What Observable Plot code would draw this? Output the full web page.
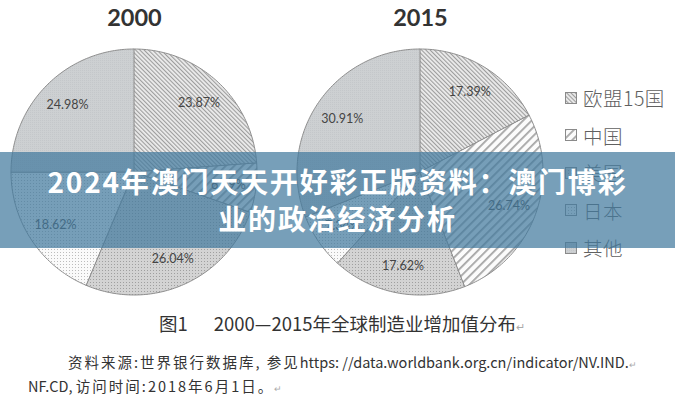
<!DOCTYPE html>
<html>
<head>
<meta charset="utf-8">
<script src="https://cdn.jsdelivr.net/npm/d3@7"></script>
<script src="https://cdn.jsdelivr.net/npm/@observablehq/plot@0.6"></script>
<style>
  html, body { margin: 0; padding: 0; background: #fff; }
  #wrap { position: relative; width: 675px; height: 400px; overflow: hidden; font-family: "Noto Sans CJK SC", sans-serif; }
  #chart { position: absolute; left: 0; top: 0; }
  #legend { position: absolute; left: 565px; top: 79px; }
  .item { display: flex; align-items: center; height: 37.5px; }
  .item svg { margin-right: 6px; }
  .item span { font-size: 19.5px; color: #606060; font-weight: 300; letter-spacing: 0.5px; }
  #banner { position: absolute; left: 0; top: 152px; width: 675px; height: 96px; background: rgba(66,122,158,0.72);
            color: #fff; font-weight: bold; font-size: 28px; letter-spacing: 1.8px; text-align: center; line-height: 37px;
            padding-top: 11px; box-sizing: border-box; }
  .cap { position: absolute; color: #333; white-space: nowrap; }
  .cj { letter-spacing: 2px; }
  .ret { color: #aaa; font-size: 0.6em; }
</style>
</head>
<body>
<svg width="0" height="0" style="position:absolute">
  <defs>
    <pattern id="pEU" patternUnits="userSpaceOnUse" width="3" height="3" patternTransform="rotate(-45)">
      <rect width="3" height="3" fill="#ececec"/>
      <rect width="1.1" height="3" fill="#9d9d9d"/>
    </pattern>
    <pattern id="pCN" patternUnits="userSpaceOnUse" width="6" height="6" patternTransform="rotate(45)">
      <rect width="6" height="6" fill="#fbfbfb"/>
      <rect width="1.8" height="6" fill="#a6a6a6"/>
    </pattern>
    <pattern id="pUS" patternUnits="userSpaceOnUse" width="3" height="3">
      <rect width="3" height="3" fill="#d3d3d3"/>
      <rect width="1" height="1" fill="#9f9f9f"/>
    </pattern>
    <pattern id="pJP" patternUnits="userSpaceOnUse" width="3" height="3">
      <rect width="3" height="3" fill="#fafafa"/>
      <rect width="1" height="1" fill="#bcbcbc"/>
    </pattern>
    <pattern id="pOT" patternUnits="userSpaceOnUse" width="2" height="2">
      <rect width="2" height="2" fill="#cdd0d2"/>
      <rect width="1" height="1" fill="#c4c7ca"/>
    </pattern>
  </defs>
</svg>
<div id="wrap">
  <div id="chart"></div>
  <div id="legend"></div>
  <div id="banner">2024年澳门天天开好彩正版资料：澳门博彩<br>业的政治经济分析</div>
  <div class="cap" style="left:159px; top:310px; font-size:18.5px;">图1<span style="display:inline-block;width:26px"></span>2000—2015年全球制造业增加值分布<span class="ret">↵</span></div>
  <div class="cap" style="left:68px; top:351px; font-size:14.5px;"><span class="cj">资料来源:世界银行数据库, 参见</span>https: //data.worldbank.org.cn/indicator/NV.IND.<span class="ret">↵</span></div>
  <div class="cap" style="left:28px; top:375px; font-size:14.5px;">NF.CD, <span class="cj">访问时间:2018年6月1日。</span><span class="ret">↵</span></div>
</div>
<script>
// ---- data ----
const years = ["2000", "2015"];
const countries = ["欧盟15国", "中国", "美国", "日本", "其他"];
const share2000 = [23.87, 6.49, 26.04, 18.62, 24.98];
const share2015 = [17.39, 26.74, 17.62, 7.34, 30.91];
const patternFills = ["url(#pEU)", "url(#pCN)", "url(#pUS)", "url(#pJP)", "url(#pOT)"];

const shares = {"2000": share2000, "2015": share2015};
const pie = d3.pie().sort(null).value(d => d.value);
const wedgePts = [];
const labels = [];
for (const year of years) {
  const rows = countries.map((country, i) => ({year, country, value: shares[year][i]}));
  for (const a of pie(rows)) {
    const n = Math.max(2, Math.ceil((a.endAngle - a.startAngle) / 0.02));
    for (let k = 0; k <= n; k++) {
      const t = a.startAngle + (a.endAngle - a.startAngle) * k / n;
      wedgePts.push({year, country: a.data.country, x: Math.sin(t), y: Math.cos(t)});
    }
    const m = (a.startAngle + a.endAngle) / 2;
    labels.push({year, country: a.data.country, x: 0.77 * Math.sin(m), y: 0.77 * Math.cos(m),
                 text: a.data.value.toFixed(2) + "%"});
  }
}

const chart = Plot.plot({
  width: 675, height: 305,
  marginTop: 49, marginBottom: 10, marginLeft: 11, marginRight: 132,
  style: {fontFamily: "Lato, 'Open Sans', sans-serif", background: "transparent"},
  x: {domain: [-1, 1], axis: null},
  y: {domain: [-1, 1], axis: null},
  fx: {domain: years, paddingInner: 0.14, paddingOuter: 0, label: null},
  color: {domain: countries, range: patternFills},
  marks: [
    Plot.area(wedgePts, {fx: "year", x1: 0, y1: 0, x2: "x", y2: "y", z: "country", fill: "country",
                         stroke: "#8e8e8e", strokeWidth: 1, curve: "linear"}),
    Plot.text(labels, {fx: "year", x: "x", y: "y", text: "text", fontSize: 12.5, fill: "#454545"}),
    Plot.axisFx({anchor: "top", tickSize: 0, fontSize: 23.5, fontWeight: "bold", fill: "#333", label: null, dy: -15})
  ]
});
document.getElementById("chart").appendChild(chart);

// legend from the colour scale
const colorScale = chart.scale("color");
const legend = document.getElementById("legend");
colorScale.domain.forEach((c, i) => {
  const item = document.createElement("div");
  item.className = "item";
  item.innerHTML = `<svg width="12" height="12"><rect x="0.5" y="0.5" width="11" height="11" fill="${colorScale.range[i]}" stroke="#8a8a8a" stroke-width="1"/></svg><span>${c}</span>`;
  legend.appendChild(item);
});
</script>
</body>
</html>
